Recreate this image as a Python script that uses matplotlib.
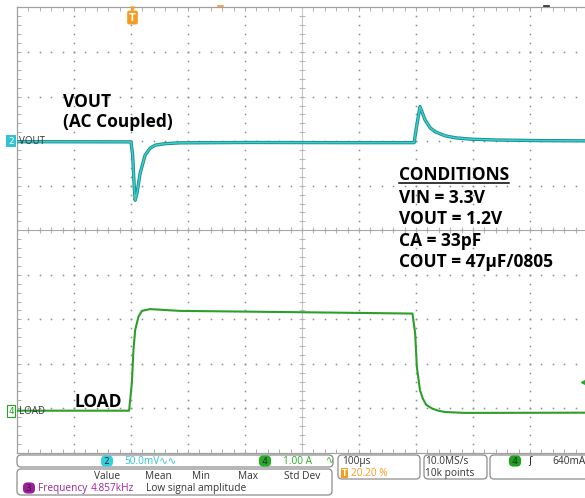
import numpy as np
import matplotlib
matplotlib.use("Agg")
import matplotlib.pyplot as plt
from matplotlib.patches import FancyBboxPatch
from matplotlib.lines import Line2D

# scope settings
TIME_PER_DIV = 100.0   # us/div
TRIG_POS = 0.202       # trigger position in record
VOUT_SCALE = 50.0      # mV/div
VOUT_OFFSET = 2.0      # div above centre
LOAD_SCALE = 1.0       # A/div
LOAD_OFFSET = -4.05    # div
TRIG_LEVEL = 0.64      # A

# VOUT (AC coupled): time in us, level in mV
vout_t = [-202, -2, 0.9, 3.5, 5.3, 8.8, 14.0, 22.8, 31.6, 40.4, 57.9, 84.2,
          207, 382, 494.7, 498, 505, 514, 523, 532, 549, 567, 596, 637, 716, 798]
vout_mv = [-0.6, -0.8, -15.7, -49.4, -66.3, -57.3, -36.0, -15.7, -7.9, -4.5, -2.8, -1.9,
           -1.5, -1.7, -1.7, 12.4, 38.8, 23.6, 14.9, 10.4, 6.0, 3.7, 2.2, 1.3, 0.6, 0.3]

# load current: time in us, current in A
load_t = [-202, -5.3, -0.5, 2.3, 5.3, 11.1, 17.0, 31.6, 84, 295, 491.8,
          496.5, 499.5, 505, 510, 516, 526, 537, 549, 584, 798]
load_a = [0.0, 0.0, 0.62, 1.36, 1.81, 2.11, 2.24, 2.28, 2.24, 2.21, 2.18,
          1.74, 0.98, 0.46, 0.27, 0.13, 0.05, 0.0, -0.03, -0.05, -0.045]

conditions = ["VIN = 3.3V", "VOUT = 1.2V", "CA = 33pF", "COUT = 47µF/0805"]
meas_headers = ["Value", "Mean", "Min", "Max", "Std Dev"]

W, H, DPI = 585, 498, 100
fig = plt.figure(figsize=(W / DPI, H / DPI), dpi=DPI)
fig.patch.set_facecolor("white")
inch = fig.dpi_scale_trans


def P(x, y):
    # screen pixel (from top-left) -> inches for dpi_scale_trans
    return x / DPI, (H - y) / DPI


def ftext(x, y, s, **kw):
    kw.setdefault("transform", inch)
    return fig.text(*P(x, y), s, **kw)


def box(x0, y0, x1, y1, ec="#8c8c8c"):
    p = FancyBboxPatch(P(x0, y1), (x1 - x0) / DPI, (y1 - y0) / DPI,
                       boxstyle="round,pad=0,rounding_size=0.04",
                       transform=inch, fc="white", ec=ec, lw=0.9)
    fig.add_artist(p)


# graticule
t0 = -TRIG_POS * 10 * TIME_PER_DIV
t1 = t0 + 10 * TIME_PER_DIV
ax = fig.add_axes([17 / W, 1 - 453 / H, 570 / W, 445.5 / H])
ax.set_xlim(t0, t1)
ax.set_ylim(-5, 5)
xmaj, xmin = np.linspace(t0, t1, 11), np.linspace(t0, t1, 51)
ymaj, ymin = np.arange(-5, 6), np.linspace(-5, 5, 51)
ax.set_xticks(xmaj)
ax.set_xticks(xmin, minor=True)
ax.set_yticks(ymaj)
ax.set_yticks(ymin, minor=True)
ax.tick_params(which="both", direction="in", top=True, right=True, length=3,
               width=0.6, color="#a0a0a0", labelleft=False, labelbottom=False)
for s in ax.spines.values():
    s.set_color("#a0a0a0")
    s.set_linewidth(0.9)
# dotted graticule: dots at every fifth of a division along each grid line
gx, gy = np.meshgrid(xmaj[1:-1], ymin)
ax.plot(gx.ravel(), gy.ravel(), ls="none", marker="s", ms=1.1, mew=0,
        color="#8a8a8a")
gx, gy = np.meshgrid(xmin, ymaj[1:-1])
ax.plot(gx.ravel(), gy.ravel(), ls="none", marker="s", ms=1.1, mew=0,
        color="#8a8a8a")
tc = (t0 + t1) / 2
ax.axhline(0, color="#a8a8a8", lw=0.8)
ax.axvline(tc, color="#c8c8c8", lw=0.8)
ax.plot(xmin, np.zeros(51), ls="none", marker="|", ms=4, mew=0.6, color="#a8a8a8")
ax.plot(np.full(51, tc), ymin, ls="none", marker="_", ms=4, mew=0.6, color="#b0b0b0")

# VOUT trace
axv = ax.twinx()
axv.set_ylim((-5 - VOUT_OFFSET) * VOUT_SCALE, (5 - VOUT_OFFSET) * VOUT_SCALE)
axv.axis("off")
axv.plot(vout_t, vout_mv, color="#1a8c8c", lw=2.4, solid_joinstyle="round")
axv.plot(vout_t, vout_mv, color="#3ccece", lw=1.1, solid_joinstyle="round")

# load trace
axl = ax.twinx()
axl.set_ylim((-5 - LOAD_OFFSET) * LOAD_SCALE, (5 - LOAD_OFFSET) * LOAD_SCALE)
axl.axis("off")
axl.plot(load_t, load_a, color="#2a9f2a", lw=1.5, solid_joinstyle="round")
axl.plot([t1 - 5], [TRIG_LEVEL], marker="<", ms=5, color="#2aa52a",
         clip_on=False, ls="none")

# trigger marker on top
ftext(132.5, 17.5, "T", ha="center", va="center", fontsize=7, color="white",
      weight="bold", bbox=dict(boxstyle="round,pad=0.2", fc="#f39c1f", ec="none"))
ftext(132.5, 9, "▼", ha="center", va="center", fontsize=5, color="#f39c1f")
fig.add_artist(Line2D([218 / DPI, 223 / DPI], [(H - 6) / DPI] * 2,
                      transform=inch, color="#f39c1f", lw=1.2))
fig.add_artist(Line2D([544 / DPI, 549 / DPI], [(H - 6) / DPI] * 2,
                      transform=inch, color="#222222", lw=1.2))

# channel markers
ftext(11, 141, "2", ha="center", va="center", fontsize=6.5, color="white",
      bbox=dict(boxstyle="square,pad=0.2", fc="#33c3cf", ec="none"))
ftext(19, 141.5, "VOUT", va="center", fontsize=7, color="#333333", family="Open Sans")
ftext(11, 411, "4", ha="center", va="center", fontsize=6.5, color="#2a9f2a",
      bbox=dict(boxstyle="square,pad=0.15", fc="white", ec="#2a9f2a", lw=0.8))
ftext(19, 411.5, "LOAD", va="center", fontsize=7, color="#333333", family="Open Sans")

# annotations
bold = dict(family="Open Sans", weight="bold", fontsize=12.5, color="black",
            va="baseline")
ftext(63, 106.7, "VOUT", **bold)
ftext(63, 127.3, "(AC Coupled)", **bold)
ftext(75, 407.3, "LOAD", **bold)
head = ftext(399, 179.5, "CONDITIONS", **bold)
for i, line in enumerate(conditions):
    ftext(399, 202.5 + 21.5 * i, line, **bold)
fig.canvas.draw()
bb = head.get_window_extent()
fig.add_artist(Line2D([bb.x0 / DPI, bb.x1 / DPI], [(H - 182.5) / DPI] * 2,
                      transform=inch, color="black", lw=1.1))

# status bar
small = dict(family=["Open Sans", "DejaVu Sans"], fontsize=7.3, va="center")
box(17, 455, 333, 467)
box(17, 469, 332, 495)
box(338, 455, 420, 479)
box(424, 455, 487, 479)
box(490, 455, 640, 479)


def chip(x, y, s, fc, tc="#222222"):
    ftext(x, y, s, ha="center", va="center", fontsize=6.5, color=tc,
          family="Open Sans",
          bbox=dict(boxstyle="round,pad=0.12,rounding_size=0.5", fc=fc, ec="none"))


chip(107, 461, " 2 ", "#33d0dc")
ftext(124, 461, "50.0mV∿∿", color="#2ec4d0", **small)
chip(265, 461, " 4 ", "#2aaa2a")
ftext(283, 461, "1.00 A", color="#2aaa2a", **small)
ftext(326, 461, "∿", color="#2aaa2a", **small)

for name, x in zip(meas_headers, [107, 158, 201, 248, 302]):
    ftext(x, 476, name, ha="center", color="#333333", **small)
chip(29, 488, " 3 ", "#9c1c9c")
ftext(38, 488, "Frequency", color="#a024a0", **small)
ftext(91, 488, "4.857kHz", color="#a024a0", **small)
ftext(146, 488, "Low signal amplitude", color="#333333", **small)

ftext(342, 461, "100µs", color="#333333", **small)
ftext(344.5, 473, "T", ha="center", va="center", fontsize=5.5, color="white",
      weight="bold", bbox=dict(boxstyle="square,pad=0.12", fc="#f39c1f", ec="none"))
ftext(351, 473, "20.20 %", color="#f39c1f", **small)
ftext(425, 461, "10.0MS/s", color="#333333", **small)
ftext(425, 473, "10k points", color="#333333", **small)
chip(515, 461, " 4 ", "#1fa01f")
ftext(528, 461, "ʃ", color="#222222", **small)
ftext(552, 461, "640mA", color="#333333", **small)

fig.savefig("out.png", dpi=DPI, facecolor="white")
